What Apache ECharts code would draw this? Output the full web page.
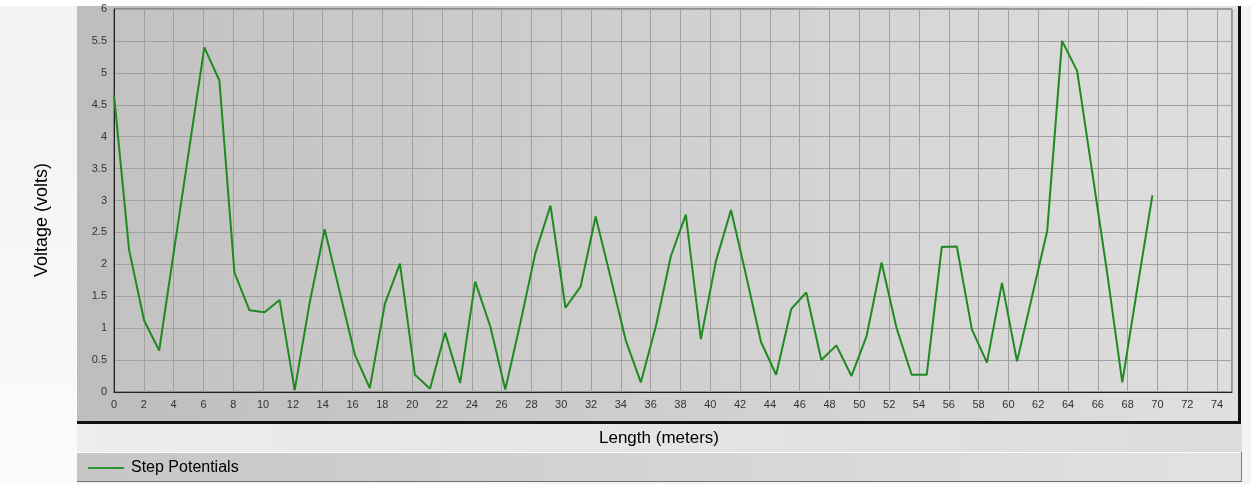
<!DOCTYPE html>
<html>
<head>
<meta charset="utf-8">
<script src="https://cdn.jsdelivr.net/npm/echarts@6/dist/echarts.min.js"></script>
<style>
html,body{margin:0;padding:0;background:#f4f4f4;}
#chart{width:1251px;height:484px;}
</style>
</head>
<body>
<div id="chart"></div>
<script>
// Distance along the profile (meters)
const lengths = [0, 1.01, 2.02, 3.03, 4.04, 5.05, 6.06, 7.07, 8.08, 9.09,
  10.10, 11.11, 12.12, 13.12, 14.13, 15.14, 16.15, 17.16, 18.17, 19.18,
  20.19, 21.20, 22.21, 23.22, 24.23, 25.24, 26.25, 27.26, 28.27, 29.28,
  30.29, 31.30, 32.31, 33.32, 34.33, 35.34, 36.35, 37.36, 38.36, 39.37,
  40.38, 41.39, 42.40, 43.41, 44.42, 45.43, 46.44, 47.45, 48.46, 49.47,
  50.48, 51.49, 52.50, 53.51, 54.52, 55.53, 56.54, 57.55, 58.56, 59.57,
  60.58, 61.59, 62.60, 63.60, 64.61, 65.62, 66.63, 67.64, 68.65, 69.66];
// Step potential (volts)
const stepPotentials = [4.65, 2.23, 1.12, 0.65, 2.24, 3.82, 5.40, 4.88, 1.87, 1.28,
  1.25, 1.44, 0.03, 1.39, 2.55, 1.57, 0.59, 0.06, 1.38, 2.01,
  0.27, 0.05, 0.93, 0.14, 1.73, 1.03, 0.04, 1.08, 2.18, 2.92,
  1.32, 1.65, 2.75, 1.79, 0.81, 0.15, 1.03, 2.13, 2.78, 0.83,
  2.05, 2.85, 1.83, 0.78, 0.27, 1.30, 1.56, 0.50, 0.73, 0.25,
  0.87, 2.03, 1.00, 0.27, 0.27, 2.27, 2.28, 0.98, 0.46, 1.71,
  0.48, 1.50, 2.52, 5.50, 5.03, 3.45, 1.86, 0.15, 1.63, 3.08];
const seriesName = 'Step Potentials';
const xTitle = 'Length (meters)';
const yTitle = 'Voltage (volts)';

const chart = echarts.init(document.getElementById('chart'), null, {renderer: 'canvas'});
const hGrad = (a, b) => new echarts.graphic.LinearGradient(0, 0, 1, 0, [{offset: 0, color: a}, {offset: 1, color: b}]);
const FONT = '"Liberation Sans", Arial, sans-serif';

chart.setOption({
  animation: false,
  backgroundColor: '#f4f4f4',
  graphic: [
    {type: 'rect', z: -20, shape: {x: 0, y: 0, width: 1251, height: 6}, style: {fill: '#ffffff'}},
    {type: 'rect', z: -20, shape: {x: 0, y: 6, width: 77, height: 478}, style: {fill: new echarts.graphic.LinearGradient(0, 0, 0, 1, [{offset: 0, color: '#f2f2f2'}, {offset: 1, color: '#fbfbfb'}])}},
    // main panel
    {type: 'rect', z: -20, shape: {x: 77, y: 6, width: 1163, height: 417}, style: {fill: hGrad('#bdbdbd', '#e0e0e0')}},
    // x title band
    {type: 'rect', z: -20, shape: {x: 77, y: 424, width: 1165, height: 28}, style: {fill: hGrad('#ededed', '#dcdcdc')}},
    // thick dark panel edges
    {type: 'rect', z: 50, shape: {x: 77, y: 421, width: 1164, height: 3}, style: {fill: '#111111'}},
    {type: 'rect', z: 50, shape: {x: 1238, y: 6, width: 3, height: 418}, style: {fill: '#111111'}},
    // legend box
    {type: 'rect', z: -20, shape: {x: 77, y: 452, width: 1165, height: 30}, style: {fill: hGrad('#c6c6c6', '#e2e2e2')}},
    {type: 'line', z: 50, shape: {x1: 77, y1: 452.5, x2: 1242, y2: 452.5}, style: {stroke: '#ffffff', lineWidth: 1}},
    {type: 'line', z: 50, shape: {x1: 77, y1: 481.5, x2: 1242, y2: 481.5}, style: {stroke: '#707070', lineWidth: 1}},
    {type: 'line', z: 50, shape: {x1: 1241.5, y1: 452, x2: 1241.5, y2: 482}, style: {stroke: '#808080', lineWidth: 1}},
    // axis titles
    {type: 'text', z: 60, x: 659, y: 438, style: {text: xTitle, font: '17px ' + FONT, fill: '#000', textAlign: 'center', textVerticalAlign: 'middle'}},
    {type: 'text', z: 60, x: 42, y: 220, rotation: Math.PI / 2, style: {text: yTitle, font: '18px ' + FONT, fill: '#000', textAlign: 'center', textVerticalAlign: 'middle'}}
  ],
  grid: {
    left: 114, top: 9, width: 1118, height: 383,
    show: true,
    backgroundColor: hGrad('#c2c2c2', '#dedede'),
    borderColor: '#505050', borderWidth: 1
  },
  legend: {
    data: [seriesName],
    left: 83, top: 455,
    icon: 'rect', itemWidth: 36, itemHeight: 2, itemGap: 10,
    textStyle: {fontSize: 16, color: '#000', fontFamily: FONT, padding: [0, 0, 0, 2]}
  },
  xAxis: {
    type: 'value', min: 0, max: 75, interval: 2,
    axisLine: {show: true, onZero: false, lineStyle: {color: '#222', width: 1}},
    axisTick: {show: false},
    axisLabel: {fontSize: 11, color: '#333', fontFamily: FONT, margin: 7, showMaxLabel: false},
    splitLine: {show: true, lineStyle: {color: '#a0a0a0', width: 1}}
  },
  yAxis: {
    type: 'value', min: 0, max: 6, interval: 0.5,
    axisLine: {show: true, lineStyle: {color: '#222', width: 1}},
    axisTick: {show: false},
    axisLabel: {fontSize: 11, color: '#333', fontFamily: FONT, margin: 7},
    splitLine: {show: true, lineStyle: {color: '#a0a0a0', width: 1}}
  },
  series: [{
    name: seriesName,
    type: 'line',
    data: lengths.map((x, i) => [x, stepPotentials[i]]),
    showSymbol: false,
    symbol: 'none',
    lineStyle: {color: '#1f8a1f', width: 2},
    itemStyle: {color: '#2e952e'}
  }]
});
</script>
</body>
</html>
